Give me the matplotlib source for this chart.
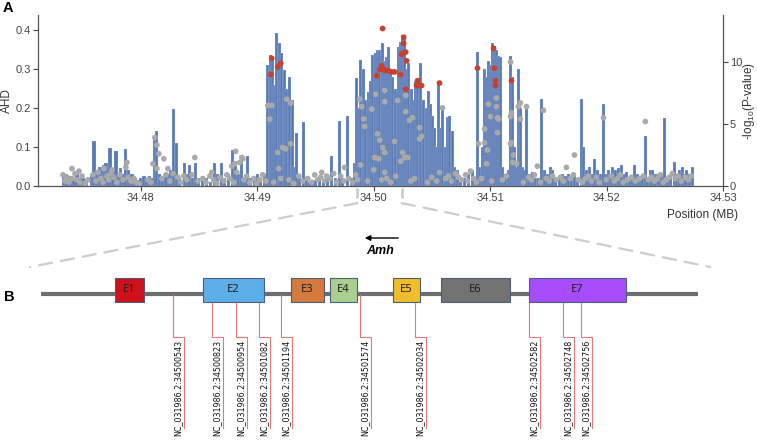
import matplotlib
matplotlib.use("Agg")
import matplotlib.pyplot as plt
from matplotlib.patches import Rectangle, ConnectionPatch

plt.rcParams['font.family'] = ['Liberation Sans', 'DejaVu Sans']
plt.rcParams['mathtext.fontset'] = 'custom'
plt.rcParams['mathtext.rm'] = 'Liberation Sans'
plt.rcParams['mathtext.default'] = 'regular'

# ---- panel A data: AHD bars (position in MB) ----
bar_pos = [
    34.47339, 34.47357, 34.47374, 34.47399, 34.47425, 34.47451, 34.47477, 34.47502, 34.47528,
    34.47580, 34.47597, 34.47622, 34.47648, 34.47665, 34.47683, 34.47700, 34.47717, 34.47734,
    34.47760, 34.47786, 34.47811, 34.47828, 34.47854, 34.47871, 34.47897, 34.47923, 34.47949,
    34.47974,
    34.48000, 34.48026, 34.48051, 34.48077, 34.48103, 34.48120, 34.48137, 34.48163, 34.48189,
    34.48215, 34.48240, 34.48257, 34.48283, 34.48309, 34.48335, 34.48378, 34.48403, 34.48420,
    34.48446, 34.48472, 34.48498,
    34.48532, 34.48566, 34.48601, 34.48635, 34.48661, 34.48695, 34.48721, 34.48755, 34.48789,
    34.48815, 34.48841, 34.48867, 34.48892, 34.48918, 34.48944, 34.48978, 34.49004,
    34.49030, 34.49064, 34.49090, 34.49115, 34.49133, 34.49150, 34.49167, 34.49193, 34.49210,
    34.49236, 34.49253, 34.49278, 34.49304, 34.49321, 34.49338, 34.49364, 34.49399, 34.49424,
    34.49450,
    34.49476, 34.49502, 34.49536, 34.49570, 34.49604, 34.49639, 34.49673, 34.49707, 34.49733,
    34.49776, 34.49810, 34.49836,
    34.49853, 34.49870, 34.49888, 34.49913, 34.49931, 34.49956, 34.49973, 34.49991, 34.50016,
    34.50033, 34.50051, 34.50076, 34.50094, 34.50111, 34.50128, 34.50145, 34.50162, 34.50188,
    34.50214, 34.50231, 34.50248, 34.50265, 34.50282, 34.50299, 34.50325, 34.50342, 34.50360,
    34.50377, 34.50402, 34.50428, 34.50454, 34.50471, 34.50488, 34.50505, 34.50523, 34.50540,
    34.50557, 34.50574, 34.50591, 34.50617, 34.50634, 34.50651, 34.50677, 34.50694, 34.50720,
    34.50746,
    34.50780, 34.50814, 34.50849, 34.50874,
    34.50891, 34.50909, 34.50934, 34.50952, 34.50969, 34.50986, 34.51003, 34.51020, 34.51037,
    34.51054, 34.51072, 34.51089, 34.51106, 34.51132, 34.51157, 34.51175, 34.51192, 34.51209,
    34.51226, 34.51243, 34.51260, 34.51278, 34.51295, 34.51312, 34.51338,
    34.51363, 34.51389, 34.51415, 34.51441, 34.51466, 34.51492, 34.51518, 34.51535, 34.51561,
    34.51595, 34.51621, 34.51647, 34.51672, 34.51698, 34.51724, 34.51750, 34.51784, 34.51801,
    34.51827, 34.51852, 34.51878, 34.51895, 34.51921, 34.51947, 34.51973, 34.51990, 34.52015,
    34.52033, 34.52050, 34.52076, 34.52101, 34.52127, 34.52153, 34.52170, 34.52196, 34.52221,
    34.52239, 34.52264, 34.52290, 34.52307, 34.52333, 34.52350, 34.52376, 34.52393, 34.52419,
    34.52444, 34.52470, 34.52496, 34.52522, 34.52547, 34.52582, 34.52599, 34.52625, 34.52650,
    34.52668, 34.52685, 34.52710, 34.52736,
]
bar_ahd = [
    0.025, 0.030, 0.020, 0.025, 0.015, 0.030, 0.020, 0.020, 0.010,
    0.030, 0.115, 0.040, 0.050, 0.045, 0.055, 0.060, 0.050, 0.097,
    0.040, 0.090, 0.030, 0.045, 0.030, 0.095, 0.040, 0.030, 0.020,
    0.015,
    0.020, 0.025, 0.020, 0.025, 0.020, 0.120, 0.141, 0.030, 0.020,
    0.030, 0.030, 0.040, 0.197, 0.110, 0.020, 0.060, 0.030, 0.055,
    0.020, 0.060, 0.020,
    0.015, 0.020, 0.010, 0.060, 0.030, 0.060, 0.020, 0.030, 0.092,
    0.065, 0.030, 0.070, 0.020, 0.077, 0.020, 0.015, 0.030,
    0.020, 0.030, 0.310, 0.336, 0.330, 0.260, 0.392, 0.367, 0.340,
    0.297, 0.250, 0.280, 0.220, 0.050, 0.135, 0.030, 0.165, 0.020,
    0.010,
    0.010, 0.015, 0.020, 0.010, 0.030, 0.077, 0.020, 0.167, 0.020,
    0.180, 0.020, 0.060,
    0.277, 0.200, 0.323, 0.300, 0.220, 0.240, 0.270, 0.336, 0.340,
    0.350, 0.350, 0.367, 0.320, 0.330, 0.357, 0.300, 0.280, 0.250,
    0.357, 0.370, 0.387, 0.380, 0.300, 0.315, 0.250, 0.220, 0.270,
    0.260, 0.315, 0.220, 0.200, 0.243, 0.210, 0.180, 0.150, 0.100,
    0.270, 0.150, 0.200, 0.100, 0.177, 0.180, 0.140, 0.050, 0.040,
    0.010,
    0.020, 0.030, 0.040, 0.020,
    0.344, 0.050, 0.100, 0.300, 0.280, 0.320, 0.310, 0.367, 0.360,
    0.350, 0.333, 0.330, 0.050, 0.030, 0.040, 0.333, 0.280, 0.100,
    0.050, 0.300, 0.200, 0.050, 0.040, 0.205, 0.030,
    0.035, 0.020, 0.020, 0.224, 0.040, 0.030, 0.050, 0.040, 0.020,
    0.020, 0.030, 0.025, 0.030, 0.020, 0.030, 0.020, 0.223, 0.100,
    0.040, 0.050, 0.030, 0.070, 0.040, 0.030, 0.210, 0.030, 0.040,
    0.030, 0.050, 0.040, 0.045, 0.055, 0.030, 0.035, 0.020, 0.025,
    0.055, 0.030, 0.020, 0.020, 0.128, 0.020, 0.040, 0.040, 0.030,
    0.030, 0.030, 0.175, 0.020, 0.020, 0.062, 0.030, 0.040, 0.050,
    0.030, 0.040, 0.030, 0.050,
]

# ---- -log10(P) of SNPs: non-significant (grey) ----
grey_pos = [
    34.49090, 34.49124, 34.49107, 34.49253, 34.49287, 34.49287, 34.49218, 34.49244, 34.49175,
    34.48815, 34.48867, 34.48849, 34.48781, 34.48824, 34.48609, 34.49553, 34.49184,
    34.49879, 34.49896, 34.49913, 34.49922, 34.50016, 34.50094, 34.50094, 34.49982, 34.50033,
    34.50051, 34.50076, 34.50094, 34.50008, 34.50042, 34.50179, 34.50205, 34.50274, 34.50274,
    34.50308, 34.50334, 34.50248, 34.50265, 34.50291, 34.50231, 34.50394, 34.50411, 34.50394,
    34.50591, 34.50565, 34.49750, 34.49888, 34.49999, 34.50094, 34.50111,
    34.50986, 34.51003, 34.51054, 34.51054, 34.51063, 34.51072, 34.51063, 34.50952, 34.50952,
    34.50900, 34.50977, 34.50969, 34.51175, 34.51183, 34.51175, 34.51183, 34.51175, 34.51200,
    34.51192, 34.51226, 34.51243, 34.51260, 34.51260, 34.51312, 34.51458, 34.51406, 34.51724,
    34.51655, 34.51973, 34.52333,
    34.48120, 34.48137, 34.48154, 34.48197, 34.48103, 34.48137, 34.48232, 34.48275, 34.47880,
    34.47871, 34.48463, 34.48807, 34.48875, 34.47408, 34.47468, 34.47683, 34.47751,
    # low values along the whole window
    34.47331, 34.47348, 34.47365, 34.47382, 34.47408, 34.47434, 34.47451, 34.47477, 34.47494,
    34.47520, 34.47545, 34.47588, 34.47614, 34.47631, 34.47657, 34.47674, 34.47708, 34.47725,
    34.47743, 34.47768, 34.47794, 34.47820, 34.47846, 34.47888, 34.47914, 34.47940, 34.47957,
    34.47983, 34.48060, 34.48086, 34.48180, 34.48215, 34.48249, 34.48317, 34.48343, 34.48369,
    34.48395, 34.48438, 34.48489, 34.48532, 34.48558, 34.48592, 34.48626, 34.48652, 34.48678,
    34.48712, 34.48738, 34.48764, 34.48798, 34.48884, 34.48909, 34.48935, 34.48970, 34.48995,
    34.49021, 34.49047, 34.49073, 34.49141, 34.49201, 34.49270, 34.49313, 34.49356, 34.49390,
    34.49433, 34.49467, 34.49493, 34.49519, 34.49544, 34.49579, 34.49596, 34.49622, 34.49656,
    34.49682, 34.49716, 34.49742, 34.49785, 34.49819, 34.49845, 34.49862, 34.49948, 34.50068,
    34.50145, 34.50188, 34.50317, 34.50351, 34.50462, 34.50497, 34.50540, 34.50617, 34.50643,
    34.50668, 34.50703, 34.50728, 34.50754, 34.50789, 34.50806, 34.50831, 34.50857, 34.50883,
    34.50926, 34.51012, 34.51106, 34.51140, 34.51286, 34.51329, 34.51355, 34.51381, 34.51432,
    34.51483, 34.51509, 34.51535, 34.51569, 34.51604, 34.51629, 34.51689, 34.51715, 34.51758,
    34.51792, 34.51818, 34.51844, 34.51870, 34.51912, 34.51938, 34.51998, 34.52041, 34.52067,
    34.52093, 34.52118, 34.52144, 34.52178, 34.52213, 34.52247, 34.52281, 34.52316, 34.52359,
    34.52384, 34.52410, 34.52436, 34.52462, 34.52487, 34.52513, 34.52539, 34.52565, 34.52590,
    34.52616, 34.52642, 34.52676, 34.52702, 34.52728,
]
grey_logp = [
    6.5, 6.5, 5.4, 7.0, 6.7, 3.4, 3.1, 3.0, 2.7,
    2.8, 2.3, 1.9, 1.6, 1.1, 1.1, 1.1, 1.4,
    7.0, 6.4, 5.4, 4.8, 7.4, 7.7, 6.8, 6.2, 4.2,
    3.7, 3.1, 2.7, 2.3, 2.2, 3.6, 6.9, 7.3, 6.0,
    5.3, 5.5, 2.7, 2.3, 2.3, 2.0, 4.7, 4.0, 3.8,
    6.3, 1.1, 1.5, 1.7, 1.3, 1.1, 0.6,
    6.6, 5.6, 7.1, 6.4, 5.5, 5.4, 4.3, 4.6, 3.5,
    3.4, 2.9, 1.8, 10.0, 5.9, 5.6, 3.5, 3.4, 2.5,
    1.9, 1.8, 6.4, 6.7, 5.4, 6.4, 6.1, 1.6, 2.5,
    1.5, 5.5, 5.2,
    3.9, 3.3, 2.6, 2.2, 1.8, 1.4, 1.4, 1.0, 1.9,
    1.5, 2.3, 1.8, 2.2, 1.4, 1.2, 1.4, 1.3,
    0.9, 0.4, 0.7, 0.3, 0.6, 1.0, 0.5, 0.3, 0.8,
    0.2, 0.5, 0.9, 0.4, 1.1, 0.6, 0.3, 0.8, 0.5,
    1.0, 0.7, 0.3, 0.9, 0.5, 0.7, 0.4, 0.6, 0.3,
    0.2, 0.5, 0.3, 0.6, 0.9, 0.4, 0.7, 0.3, 0.8,
    0.5, 0.9, 0.4, 0.6, 0.3, 0.8, 0.5, 0.2, 0.7,
    0.4, 0.9, 0.6, 0.3, 0.5, 0.8, 0.3, 0.6, 0.2,
    0.5, 0.9, 0.4, 0.3, 0.6, 0.5, 0.2, 0.8, 0.4,
    0.6, 0.3, 0.9, 0.5, 0.7, 0.4, 0.8, 0.6, 1.0,
    0.3, 0.8, 0.4, 0.6, 0.3, 0.9, 0.5, 0.4, 0.5,
    0.3, 0.8, 0.4, 0.6, 0.3, 0.7, 0.4, 0.6, 0.8,
    0.4, 1.0, 0.7, 0.5, 0.9, 0.4, 1.2, 0.6, 0.3,
    0.6, 0.4, 0.5, 0.8, 0.3, 0.7, 0.5, 0.9, 0.3,
    0.6, 0.4, 0.8, 0.5, 0.7, 0.4, 0.6, 0.9, 0.5,
    0.3, 0.6, 0.8, 0.4, 0.7, 0.3, 0.5, 0.8, 0.4,
    0.6, 0.9, 0.3, 0.5, 0.7, 0.4, 0.6, 0.8, 0.5,
    0.7, 0.4, 0.6, 0.9, 0.3, 0.5, 0.7, 1.0, 0.6,
    0.8, 0.4, 0.7, 0.5, 0.8,
]

# ---- significant SNPs (red) ----
red_pos = [
    34.49115, 34.49124, 34.49175, 34.49201, 34.50025, 34.50051, 34.50068, 34.50085, 34.50076,
    34.50102, 34.50128, 34.50154, 34.50179, 34.50231, 34.50239, 34.50248, 34.50257, 34.50257,
    34.50274, 34.50282, 34.50274, 34.50368, 34.50377, 34.50394, 34.50411, 34.50565, 34.50891,
    34.51029, 34.51037, 34.51046, 34.51046, 34.51183,
]
red_logp = [
    9.0, 10.3, 9.6, 9.9, 8.9, 9.4, 9.7, 9.4, 12.7,
    9.3, 9.3, 9.2, 9.2, 9.0, 10.6, 10.7, 11.5, 12.0,
    10.8, 10.1, 7.8, 8.1, 8.5, 8.1, 8.1, 8.3, 9.5,
    11.1, 9.5, 8.5, 8.1, 8.5,
]

x_ticks = [34.48, 34.49, 34.50, 34.51, 34.52, 34.53]
ahd_ticks = [0.0, 0.1, 0.2, 0.3, 0.4]
logp_ticks = [0, 5, 10]

# gene region zoomed into panel B (MB)
gene_region = [34.4986, 34.5024]

# ---- panel B: schematic of Amh (diagram units) ----
exon_names = ['E1', 'E2', 'E3', 'E4', 'E5', 'E6', 'E7']
exon_start = [115, 203, 291, 330, 393, 441, 529]
exon_end = [144, 264, 324, 357, 420, 510, 626]
exon_colors = ['#d0111b', '#5caee9', '#d57a3c', '#a9d08e', '#f1be2b', '#727272', '#a64cfb']
snp_ids = ['34500543', '34500823', '34500954', '34501082', '34501194',
           '34501574', '34502034', '34502582', '34502748', '34502756']
snp_x = [173, 212, 236, 259, 281, 360, 415, 529, 563, 581]

fig = plt.figure(figsize=(7.57, 4.43), dpi=100)

# overlay in pixel-like units for the schematic and connectors
axb = fig.add_axes([0, 0, 1, 1])
axb.set_xlim(0, 757)
axb.set_ylim(443, 0)
axb.axis('off')

ax = fig.add_axes([38 / 757, 1 - 186 / 443, 685 / 757, 171 / 443])
ax2 = ax.twinx()

ax.bar(bar_pos, bar_ahd, width=0.00027, color='#5a7cb6', edgecolor='#e8edf5',
       linewidth=0.15, zorder=2)
ax2.scatter(grey_pos, grey_logp, s=17, color='#a9a9a9', edgecolors='none', zorder=3)
ax2.scatter(red_pos, red_logp, s=17, color='#c9402e', edgecolors='none', zorder=4)

ax.set_xlim(34.47116, 34.53)
ax.set_ylim(0, 0.4385)
ax2.set_ylim(0, 13.79)
ax.set_xticks(x_ticks)
ax.set_xticklabels(['%.2f' % t for t in x_ticks])
ax.set_yticks(ahd_ticks)
ax.set_yticklabels(['%.1f' % t for t in ahd_ticks])
ax2.set_yticks(logp_ticks)

for a in (ax, ax2):
    a.spines['top'].set_visible(False)
    for s in a.spines.values():
        s.set_color('#555555')
        s.set_linewidth(0.9)
    a.tick_params(labelsize=8, colors='#444444', length=3.5, width=0.8, pad=1.5)
ax.spines['right'].set_visible(False)
ax2.spines['left'].set_visible(False)
ax2.spines['bottom'].set_visible(False)
ax.patch.set_visible(False)

ax.set_ylabel('AHD', fontsize=8.5, color='#333333')
ax.yaxis.set_label_coords(-0.036, 0.5)
ax2.set_ylabel('-log$_{10}$(P-value)', fontsize=8.5, color='#333333')
ax2.yaxis.set_label_coords(1.026, 0.5)
ax.set_xlabel('Position (MB)', fontsize=8.5, color='#333333', loc='right')
ax.xaxis.set_label_coords(1.022, -0.135)

# region markers and dashed zoom lines
xt = ax.get_xaxis_transform()
for gx in gene_region:
    ax.plot([gx, gx], [-0.01, -0.07], transform=xt, clip_on=False,
            color='#cccccc', lw=2, solid_capstyle='butt')
for gx, bx in zip(gene_region, [30, 710]):
    con = ConnectionPatch(xyA=(gx, -0.1), coordsA=xt, xyB=(bx, 267), coordsB=axb.transData,
                          color='#cccccc', lw=1.6, linestyle=(0, (6, 4)))
    fig.add_artist(con)

# gene direction
axb.annotate('', xy=(362, 238), xytext=(401, 238),
             arrowprops=dict(arrowstyle='-|>', color='black', lw=1.0, mutation_scale=8))
axb.text(380, 251, 'Amh', fontsize=9, fontweight='bold', fontstyle='italic',
         ha='center', va='center')

# backbone and exons
axb.plot([41, 698], [294, 294], color='#6e6e6e', lw=3, solid_capstyle='butt', zorder=1)
for name, x0, x1, c in zip(exon_names, exon_start, exon_end, exon_colors):
    axb.add_patch(Rectangle((x0, 278), x1 - x0, 24, facecolor=c,
                            edgecolor='#4a5f7a', lw=0.8, zorder=3))
    axb.text((x0 + x1) / 2, 290, name, fontsize=8, ha='center', va='center',
             color='#222222', family=['Noto Sans', 'DejaVu Sans'], zorder=4)

# SNP leader lines and labels
for sid, sx in zip(snp_ids, snp_x):
    lx = sx + 11
    axb.plot([sx, sx, lx, lx], [295, 337, 337, 428], color='#e07a7a', lw=0.8, zorder=2)
    axb.text(lx - 1.5, 340, 'NC_031986.2:' + sid, rotation=90, fontsize=5.8,
             ha='right', va='top', color='#111111', family='DejaVu Sans')

fig.text(8 / 757, 1 - 8 / 443, 'A', fontsize=10.5, fontweight='bold', ha='center', va='center')
fig.text(9 / 757, 1 - 297 / 443, 'B', fontsize=10.5, fontweight='bold', ha='center', va='center')

fig.savefig('out.png', dpi=100)
